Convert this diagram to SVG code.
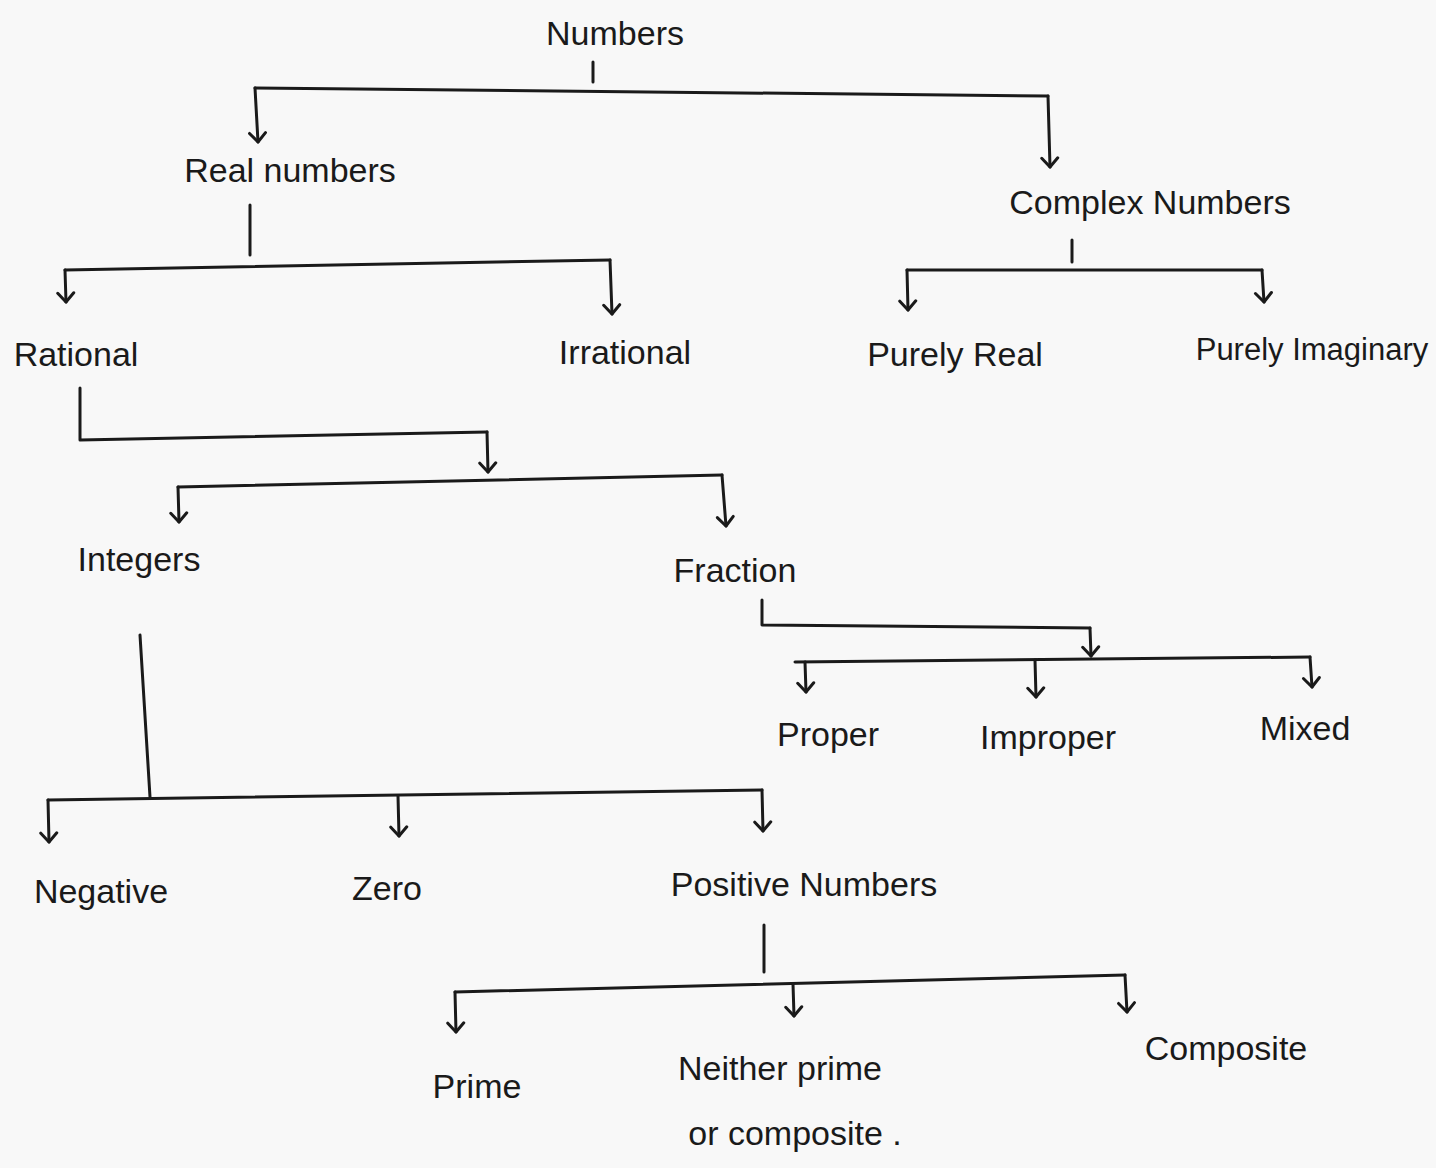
<svg xmlns="http://www.w3.org/2000/svg" width="1436" height="1168" viewBox="0 0 1436 1168">
<style>
.t{font-family:"Liberation Sans","DejaVu Sans",sans-serif;font-size:34px;fill:#1a1a1a;text-anchor:middle}
.c{fill:none;stroke:#1a1a1a;stroke-width:3;stroke-linecap:round;stroke-linejoin:round}
</style>
<defs>
<marker id="a" viewBox="0 0 20 20" refX="18" refY="10" markerWidth="20" markerHeight="20" markerUnits="userSpaceOnUse" orient="auto">
<path d="M9 2 L18 10 L9 18" fill="none" stroke="#1a1a1a" stroke-width="3" stroke-linecap="round" stroke-linejoin="round"/>
</marker>
</defs>
<rect width="1436" height="1168" fill="#f8f8f8"/>
<g id="connectors" class="c">
<path d="M593 62 L593 82"/>
<path d="M255 88 L1048 96"/>
<path d="M255 88 L258 142" marker-end="url(#a)"/>
<path d="M1048 96 L1050 167" marker-end="url(#a)"/>
<path d="M250 205 L250 255"/>
<path d="M65 270 L610 260"/>
<path d="M65 270 L66 302" marker-end="url(#a)"/>
<path d="M610 260 L612 314" marker-end="url(#a)"/>
<path d="M1072 240 L1072 262"/>
<path d="M907 270 L1262 270"/>
<path d="M907 270 L908 310" marker-end="url(#a)"/>
<path d="M1262 270 L1264 302" marker-end="url(#a)"/>
<path d="M80 388 L80 440 L487 432"/>
<path d="M487 432 L488 472" marker-end="url(#a)"/>
<path d="M178 487 L722 475"/>
<path d="M178 487 L179 522" marker-end="url(#a)"/>
<path d="M722 475 L726 526" marker-end="url(#a)"/>
<path d="M762 600 L762 625 L1090 628"/>
<path d="M1090 628 L1091 656" marker-end="url(#a)"/>
<path d="M795 662 L1310 657"/>
<path d="M805 662 L806 692" marker-end="url(#a)"/>
<path d="M1035 660 L1036 697" marker-end="url(#a)"/>
<path d="M1310 657 L1312 687" marker-end="url(#a)"/>
<path d="M140 635 L150 797"/>
<path d="M48 800 L762 790"/>
<path d="M48 800 L49 842" marker-end="url(#a)"/>
<path d="M398 796 L399 836" marker-end="url(#a)"/>
<path d="M762 790 L763 831" marker-end="url(#a)"/>
<path d="M764 925 L764 972"/>
<path d="M455 992 L1125 975"/>
<path d="M455 992 L456 1032" marker-end="url(#a)"/>
<path d="M793 984 L794 1016" marker-end="url(#a)"/>
<path d="M1125 975 L1127 1012" marker-end="url(#a)"/>
</g>
<g id="numbers"><text class="t" x="615" y="45">Numbers</text></g>
<g id="real"><text class="t" x="290" y="182">Real numbers</text></g>
<g id="complex"><text class="t" x="1150" y="214">Complex Numbers</text></g>
<g id="rational"><text class="t" x="76" y="366">Rational</text></g>
<g id="irrational"><text class="t" x="625" y="364">Irrational</text></g>
<g id="purelyreal"><text class="t" x="955" y="366">Purely Real</text></g>
<g id="purelyimaginary"><text class="t" x="1312" y="360" style="font-size:31px">Purely Imaginary</text></g>
<g id="integers"><text class="t" x="139" y="571">Integers</text></g>
<g id="fraction"><text class="t" x="735" y="582">Fraction</text></g>
<g id="proper"><text class="t" x="828" y="746">Proper</text></g>
<g id="improper"><text class="t" x="1048" y="749">Improper</text></g>
<g id="mixed"><text class="t" x="1305" y="740">Mixed</text></g>
<g id="negative"><text class="t" x="101" y="903">Negative</text></g>
<g id="zero"><text class="t" x="387" y="900">Zero</text></g>
<g id="positive"><text class="t" x="804" y="896">Positive Numbers</text></g>
<g id="prime"><text class="t" x="477" y="1098">Prime</text></g>
<g id="neither"><text class="t" x="780" y="1080">Neither prime</text><text class="t" x="795" y="1145">or composite .</text></g>
<g id="composite"><text class="t" x="1226" y="1060">Composite</text></g>
</svg>
